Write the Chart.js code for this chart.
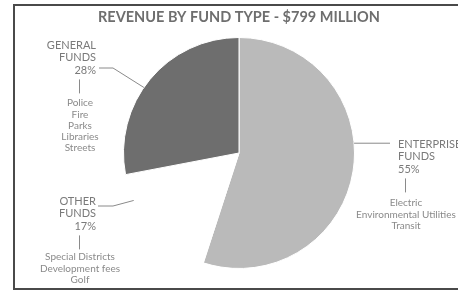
<!doctype html>
<html lang="en">
  <head>
    <meta charset="utf-8">
    <title>Revenue by Fund Type</title>
    <style>
      * { margin: 0; padding: 0; }
      body { width: 458px; height: 290px; overflow: hidden; background: #fff; position: relative; }
      .frame {
        position: absolute; left: 13px; top: 4px;
        width: 500px; height: 282px;
        border: 2px solid #4a4a4a;
      }
      .chartBox { position: absolute; left: 0; top: 0; width: 458px; height: 290px; }
    </style>
  </head>
  <body>
    <div class="frame"></div>
    <div class="chartBox"><canvas id="myChart"></canvas></div>
    <script src="https://cdn.jsdelivr.net/npm/chart.js"></script>
    <script>
    // data
    const titleText = 'REVENUE BY FUND TYPE - $799 MILLION';
    const categories = [['ENTERPRISE', 'FUNDS'], ['OTHER', 'FUNDS'], ['GENERAL', 'FUNDS']];
    const shares = [55, 17, 28];
    const details = [
      ['Electric', 'Environmental Utilities', 'Transit'],
      ['Special Districts', 'Development fees', 'Golf'],
      ['Police', 'Fire', 'Parks', 'Libraries', 'Streets']
    ];
    const sliceColors = ['#bababa', '#ffffff', '#6e6e6e'];

    // label placement per slice (text block + leader elbow), f = where on the arc the leader ends
    const labelLayout = [
      { align: 'left', tx: 398, ty: 144, elbow: [390, null], end: [390, null], f: 0.43, tick: 405, detailY: 203 },
      { align: 'right', tx: 96, ty: 201, elbow: [113, 206], end: [98, 206], f: 0.78, tick: 79, detailY: 257 },
      { align: 'right', tx: 96, ty: 45, elbow: [113, 68], end: [99, 68], f: 0.45, tick: 79, detailY: 103 }
    ];

    const fundLabels = {
      id: 'fundLabels',
      afterDraw(chart) {
        const ctx = chart.ctx;
        const arcs = chart.getDatasetMeta(0).data;
        ctx.save();
        ctx.strokeStyle = '#8a8a8a';
        ctx.lineWidth = 1;
        ctx.textBaseline = 'middle';
        arcs.forEach((arc, i) => {
          const L = labelLayout[i];
          const p = arc.getProps(['x', 'y', 'startAngle', 'endAngle', 'outerRadius'], true);
          const a = p.startAngle + L.f * (p.endAngle - p.startAngle);
          const ex = p.x + p.outerRadius * Math.cos(a);
          const ey = p.y + p.outerRadius * Math.sin(a);
          // leader
          ctx.beginPath();
          ctx.moveTo(ex, ey);
          const elY = L.elbow[1] === null ? ey : L.elbow[1];
          const enY = L.end[1] === null ? ey : L.end[1];
          ctx.lineTo(L.elbow[0], elY);
          ctx.lineTo(L.end[0], enY);
          ctx.stroke();
          // heading
          ctx.fillStyle = '#7a7a7a';
          ctx.font = '11px Lato';
          ctx.textAlign = L.align;
          const lines = categories[i].concat([shares[i] + '%']);
          lines.forEach((t, k) => ctx.fillText(t, L.tx, L.ty + k * 12.7));
          // tick
          const tickTop = L.ty + 2 * 12.7 + 9;
          ctx.beginPath();
          ctx.moveTo(L.tick + 0.5, tickTop);
          ctx.lineTo(L.tick + 0.5, tickTop + 14);
          ctx.stroke();
          // detail lines
          ctx.fillStyle = '#8a8a8a';
          ctx.font = '10px Lato';
          ctx.textAlign = 'center';
          details[i].forEach((t, k) => ctx.fillText(t, L.tick + 1, L.detailY + k * 11.3));
        });
        ctx.restore();
      }
    };

    const data = {
      labels: categories.map(c => c.join(' ')),
      datasets: [{
        data: shares,
        backgroundColor: sliceColors,
        borderColor: '#ffffff',
        borderWidth: 1
      }]
    };

    const config = {
      type: 'pie',
      data,
      options: {
        responsive: false,
        animation: false,
        layout: { padding: { top: 0, bottom: 21, left: 20, right: 0 } },
        plugins: {
          legend: { display: false },
          tooltip: { enabled: false },
          title: {
            display: true,
            text: titleText,
            color: '#6e6e6e',
            font: { family: 'Lato', size: 14.5, weight: 'bold', lineHeight: 1.2 },
            padding: { top: 9, bottom: 10.6 }
          }
        }
      },
      plugins: [fundLabels]
    };

    const canvas = document.getElementById('myChart');
    canvas.width = 458; canvas.height = 290;
    const myChart = new Chart(canvas, config);
    </script>
  </body>
</html>
